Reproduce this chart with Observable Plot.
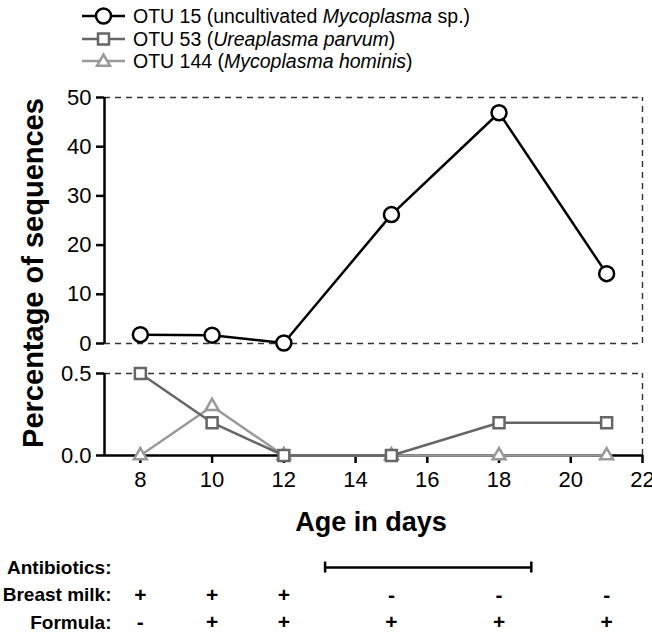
<!DOCTYPE html>
<html><head><meta charset="utf-8">
<script src="https://cdn.jsdelivr.net/npm/d3@7"></script>
<script src="https://cdn.jsdelivr.net/npm/@observablehq/plot@0.6"></script>
<style>
body{margin:0;background:#fff;font-family:"Liberation Sans",Arial,sans-serif;}
#wrap{position:relative;width:652px;height:639px;overflow:hidden;background:#fff;}
.abs{position:absolute;}
.leg{position:absolute;left:80px;top:5px;font-size:19.5px;color:#000;line-height:22.5px;}
.leg div{display:flex;align-items:center;height:22.5px;white-space:nowrap;}
.leg svg{margin-right:7px;}
.ytitle{position:absolute;left:33px;top:273px;transform:translate(-50%,-50%) rotate(-90deg);font-weight:bold;font-size:29px;white-space:nowrap;color:#000;}
.xtitle{position:absolute;left:371px;top:522px;transform:translate(-50%,-50%);font-weight:bold;font-size:27px;white-space:nowrap;color:#000;}
</style></head><body><div id="wrap"></div>
<script>
// ---- data ----
const days = [8, 10, 12, 15, 18, 21];
const otu15 = [1.8, 1.7, 0.1, 26.2, 46.9, 14.2];
const otu53 = [0.5, 0.2, 0, 0, 0.2, 0.2];
const otu144 = [0, 0.3, 0, 0, 0, 0];
const seriesNames = ["OTU 15", "OTU 53", "OTU 144"];
const seriesLabels = [
  'OTU 15 (uncultivated <i>Mycoplasma</i> sp.)',
  'OTU 53 (<i>Ureaplasma parvum</i>)',
  'OTU 144 (<i>Mycoplasma hominis</i>)'
];
const seriesColors = ["#000000", "#666666", "#999999"];
const seriesSymbols = ["circle", "square", "triangle"];
const xTicks = [8, 10, 12, 14, 16, 18, 20, 22];
const topTicks = [0, 10, 20, 30, 40, 50];
const bottomTicks = [0, 0.5];
const rowLabels = ["Antibiotics:", "Breast milk:", "Formula:"];
const antibiotics = [13.15, 18.9];
const breastMilk = ["+", "+", "+", "-", "-", "-"];
const formula = ["-", "+", "+", "+", "+", "+"];

const xDomain = [7, 22];
const font = '"Liberation Sans", Arial, sans-serif';
const wrap = document.getElementById("wrap");

const rows = (vals) => days.map((d, i) => ({day: d, v: vals[i]}));
const d15 = rows(otu15), d53 = rows(otu53), d144 = rows(otu144);
const dash = {stroke: "#333", strokeWidth: 1.4, strokeDasharray: "6,5"};
const baseStyle = {fontFamily: font, fontSize: "22px", color: "#000", background: "transparent", overflow: "visible"};

function place(el, top) {
  el.classList.add("abs");
  el.style.left = "0px";
  el.style.top = top + "px";
  wrap.appendChild(el);
}

// ---- legend ----
const leg = document.createElement("div");
leg.className = "leg";
seriesNames.forEach((n, i) => {
  const row = document.createElement("div");
  const svg = d3.create("svg").attr("width", 46).attr("height", 20);
  svg.append("line").attr("x1", 2).attr("x2", 45).attr("y1", 10).attr("y2", 10)
    .attr("stroke", seriesColors[i]).attr("stroke-width", 2.5);
  const r = [7.5, 6.2, 4.8][i];
  const sym = [d3.symbolCircle, d3.symbolSquare, d3.symbolTriangle][i];
  svg.append("path").attr("d", d3.symbol(sym, Math.PI * r * r)())
    .attr("transform", `translate(23.5,${i === 2 ? 11 : 10})`)
    .attr("fill", "white").attr("stroke", seriesColors[i]).attr("stroke-width", 2.5);
  row.appendChild(svg.node());
  const t = document.createElement("span");
  t.innerHTML = seriesLabels[i];
  row.appendChild(t);
  leg.appendChild(row);
});
wrap.appendChild(leg);

// ---- top panel ----
const topPlot = Plot.plot({
  width: 652, height: 280, marginTop: 17, marginBottom: 17, marginLeft: 104, marginRight: 10,
  x: {domain: xDomain, axis: null},
  y: {domain: [0, 50], axis: null},
  style: baseStyle,
  marks: [
    Plot.ruleY([0, 50], {x1: 7, x2: 22, ...dash}),
    Plot.ruleX([22], {y1: 0, y2: 50, ...dash}),
    Plot.axisY({ticks: topTicks, tickSize: 8, tickPadding: 5, strokeWidth: 2.5, stroke: "#000", fill: "#000", fontSize: 22, label: null}),
    Plot.ruleX([7], {y1: 0, y2: 50, stroke: "#000", strokeWidth: 2.5}),
    Plot.line(d15, {x: "day", y: "v", stroke: seriesColors[0], strokeWidth: 2.5}),
    Plot.dot(d15, {x: "day", y: "v", r: 7.5, symbol: "circle", fill: "white", stroke: seriesColors[0], strokeWidth: 2.5})
  ]
});
place(topPlot, 80);

// ---- bottom panel ----
const botPlot = Plot.plot({
  width: 652, height: 140, marginTop: 13, marginBottom: 45, marginLeft: 104, marginRight: 10,
  x: {domain: xDomain, axis: null},
  y: {domain: [0, 0.5], axis: null},
  style: baseStyle,
  marks: [
    Plot.ruleY([0.5], {x1: 7, x2: 22, ...dash}),
    Plot.ruleX([22], {y1: 0, y2: 0.5, ...dash}),
    Plot.axisY({ticks: bottomTicks, tickFormat: d3.format(".1f"), tickSize: 8, tickPadding: 5, strokeWidth: 2.5, stroke: "#000", fill: "#000", fontSize: 22, label: null}),
    Plot.axisX({ticks: xTicks, tickSize: 8, tickPadding: 8, strokeWidth: 2.5, stroke: "#000", fill: "#000", fontSize: 22, label: null}),
    Plot.ruleX([7], {y1: 0, y2: 0.5, stroke: "#000", strokeWidth: 2.5}),
    Plot.ruleY([0], {x1: 7, x2: 22, stroke: "#000", strokeWidth: 2.5}),
    Plot.line(d144, {x: "day", y: "v", stroke: seriesColors[2], strokeWidth: 2.5}),
    Plot.dot(d144, {x: "day", y: "v", r: 4.8, symbol: "triangle", fill: "white", stroke: seriesColors[2], strokeWidth: 2.5}),
    Plot.line(d53, {x: "day", y: "v", stroke: seriesColors[1], strokeWidth: 2.5}),
    Plot.dot(d53, {x: "day", y: "v", r: 6.2, symbol: "square", fill: "white", stroke: seriesColors[1], strokeWidth: 2.5})
  ]
});
place(botPlot, 360);

// ---- annotations ----
const annPlot = Plot.plot({
  width: 652, height: 89, marginTop: 17, marginBottom: 17, marginLeft: 104, marginRight: 10,
  x: {domain: xDomain, axis: null},
  y: {domain: [0, 2], range: [17, 72], axis: null},
  style: baseStyle,
  marks: [
    Plot.text(rowLabels, {x: 7, y: (d, i) => i, text: d => d, textAnchor: "end", dx: 7, fontWeight: "bold", fontSize: 19, fill: "#000"}),
    Plot.ruleY([0], {x1: antibiotics[0], x2: antibiotics[1], stroke: "#000", strokeWidth: 2.5}),
    Plot.ruleX(antibiotics, {y1: -0.2, y2: 0.2, stroke: "#000", strokeWidth: 2.5}),
    Plot.text(days, {x: d => d, y: 1, text: (d, i) => breastMilk[i], fontWeight: "bold", fontSize: 21, fill: "#000"}),
    Plot.text(days, {x: d => d, y: 2, text: (d, i) => formula[i], fontWeight: "bold", fontSize: 21, fill: "#000"})
  ]
});
place(annPlot, 550);

// ---- axis titles ----
const yt = document.createElement("div");
yt.className = "ytitle"; yt.textContent = "Percentage of sequences";
wrap.appendChild(yt);
const xt = document.createElement("div");
xt.className = "xtitle"; xt.textContent = "Age in days";
wrap.appendChild(xt);
</script></body></html>
